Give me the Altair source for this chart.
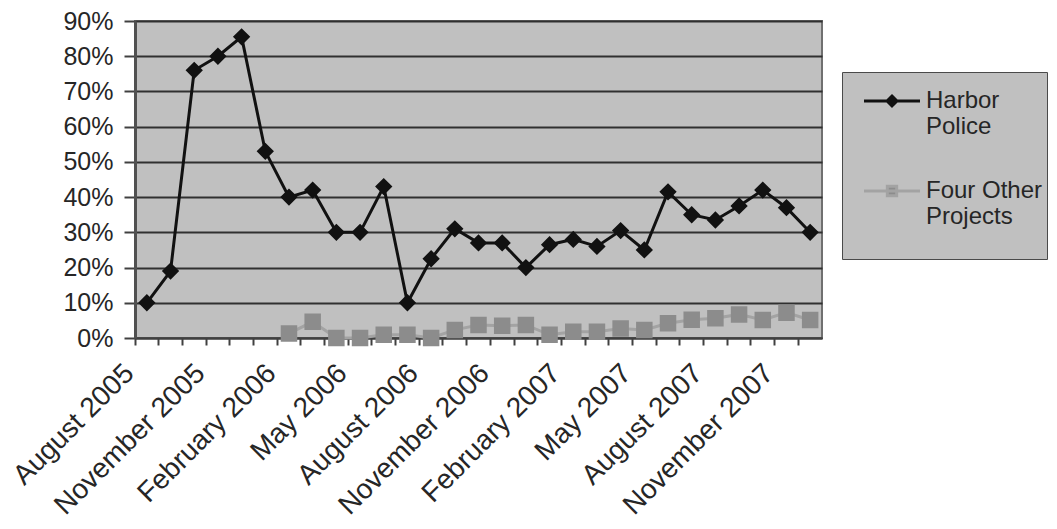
import altair as alt
import pandas as pd

# Monthly share of cases, August 2005 through December 2007
months = [
    "August 2005", "September 2005", "October 2005", "November 2005", "December 2005",
    "January 2006", "February 2006", "March 2006", "April 2006", "May 2006",
    "June 2006", "July 2006", "August 2006", "September 2006", "October 2006",
    "November 2006", "December 2006", "January 2007", "February 2007", "March 2007",
    "April 2007", "May 2007", "June 2007", "July 2007", "August 2007",
    "September 2007", "October 2007", "November 2007", "December 2007",
]
harbor_police = [
    10, 19, 76, 80, 85.5, 53, 40, 42, 30, 30, 43, 10, 22.5, 31, 27,
    27, 20, 26.5, 28, 26, 30.5, 25, 41.5, 35, 33.5, 37.5, 42, 37, 30,
]
four_other = [
    None, None, None, None, None, None, 1.3, 4.6, 0, 0, 0.9, 0.9, 0, 2.3, 3.7,
    3.5, 3.7, 0.9, 1.8, 1.8, 2.7, 2.3, 4.2, 5.2, 5.6, 6.7, 5.1, 7.2, 5.1,
]
series_names = ["Harbor Police", "Four Other Projects"]
labelled_months = months[::3]

rows = []
for m, h, o in zip(months, harbor_police, four_other):
    rows.append({"month": m, "series": series_names[0], "value": h})
    if o is not None:
        rows.append({"month": m, "series": series_names[1], "value": o})
df = pd.DataFrame(rows)

FONT = "Liberation Sans"
INK = "#262626"

x_enc = alt.X(
    "month:N",
    sort=months,
    scale=alt.Scale(type="band", paddingInner=0, paddingOuter=0),
    axis=alt.Axis(
        title=None,
        values=months,
        bandPosition=0,
        labelExpr="indexof(" + str(labelled_months) + ", datum.value) >= 0 ? datum.value : ''",
        labelAngle=-45,
        labelAlign="right",
        labelBaseline="top",
        labelFontSize=28,
        labelFont=FONT,
        labelColor=INK,
        labelPadding=14,
        labelOffset=-27,
        labelOverlap=False,
        labelLimit=400,
        tickSize=7,
        tickWidth=2,
        tickColor="#404040",
        domainColor="#404040",
        domainWidth=2,
        grid=False,
    ),
)
y_enc = alt.Y(
    "value:Q",
    scale=alt.Scale(domain=[0, 90], nice=False),
    axis=alt.Axis(
        title=None,
        values=list(range(0, 100, 10)),
        labelExpr="datum.value + '%'",
        labelFontSize=25,
        labelFont=FONT,
        labelColor=INK,
        labelPadding=11,
        tickSize=11,
        tickWidth=2,
        tickColor="#404040",
        domainColor="#505050",
        domainWidth=3,
        grid=True,
        gridColor="#303030",
        gridWidth=2,
    ),
)

base = alt.Chart(df).encode(x=x_enc, y=y_enc)

# Marker paths: a stroke-only line segment plus a filled marker.
# The plotted points have no stroke, so only the marker shows there;
# the legend strokes its symbols, which draws the line through the marker.
seg = "M-1.2,0H1.2 "
diamond_path = seg + "M0,-0.21L0.21,0L0,0.21L-0.21,0Z"
square_path = seg + "M-0.2,-0.2H0.2V0.2H-0.2Z"

legend = alt.Legend(
    title=None,
    orient="none",
    legendX=707,
    legendY=51,
    labelExpr=(
        "datum.label == 'Harbor Police' ? ['Harbor', 'Police'] "
        ": ['Four Other', 'Projects', '']"
    ),
    labelFontSize=24,
    labelFont=FONT,
    labelColor=INK,
    labelOffset=9,
    labelLimit=400,
    symbolSize=2180,
    symbolOffset=21,
    symbolStrokeWidth=3,
    symbolStrokeColor="#111111",
    rowPadding=27,
    padding=4,
    fillColor="#c0c0c0",
    strokeColor="#4a4a4a",
)

lines = base.mark_line(strokeWidth=3).encode(
    color=alt.Color(
        "series:N",
        scale=alt.Scale(domain=series_names, range=["#111111", "#a3a3a3"]),
        legend=legend,
    ),
    detail="series:N",
)

points = base.mark_point(filled=True, size=6810, opacity=1).encode(
    fill=alt.Fill(
        "series:N",
        scale=alt.Scale(domain=series_names, range=["#111111", "#8c8c8c"]),
        legend=legend,
    ),
    shape=alt.Shape(
        "series:N",
        scale=alt.Scale(domain=series_names, range=[diamond_path, square_path]),
        legend=legend,
    ),
)

chart = (
    alt.layer(lines, points)
    .properties(
        width=687,
        height=317,
        autosize=alt.AutoSizeParams(type="none"),
        padding={"left": 135, "top": 21, "right": 235, "bottom": 191},
        background="white",
    )
    .configure_view(fill="#c0c0c0", stroke="#707070", strokeWidth=2)
)

chart.save("out.html", embed_options={"renderer": "svg", "actions": False})
